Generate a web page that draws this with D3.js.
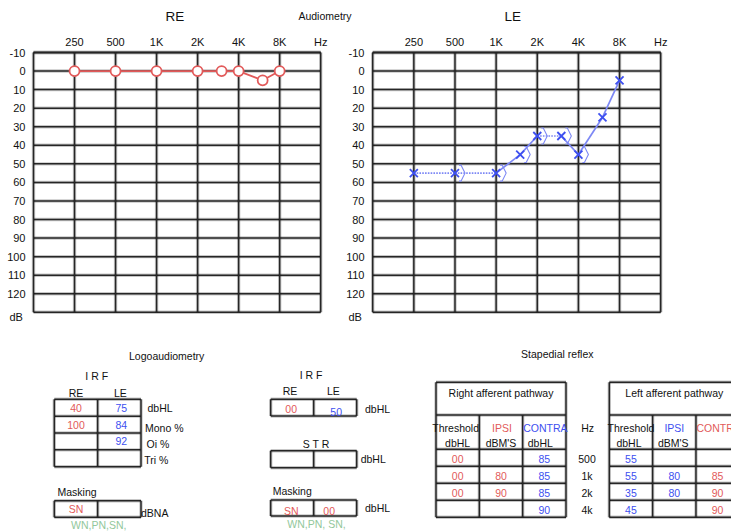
<!DOCTYPE html>
<html><head><meta charset="utf-8">
<script src="https://cdn.jsdelivr.net/npm/d3@7/dist/d3.min.js"></script>
<style>
html,body{margin:0;padding:0;background:#fff;}
svg{display:block;font-family:"Liberation Sans",Arial,Helvetica,sans-serif;}
</style></head>
<body>
<svg id="chart" width="731" height="531"></svg>
<script>
// ---------- DATA ----------
const freqTicks = [250, 500, 1000, 2000, 4000, 8000, 16000];
const freqLabels = ["250", "500", "1K", "2K", "4K", "8K", "Hz"];
const dbTicks = [-10, 0, 10, 20, 30, 40, 50, 60, 70, 80, 90, 100, 110, 120];
const reFreqs = [250, 500, 1000, 2000, 3000, 4000, 6000, 8000];
const reValues = [0, 0, 0, 0, 0, 0, 5, 0];
const leFreqs = [250, 500, 1000, 1500, 2000, 3000, 4000, 6000, 8000];
const leValues = [55, 55, 55, 45, 35, 35, 45, 25, 5];
const leDotted = [true, true, false, false, true, false, false, false]; // segment styles
const leBoneFreqs = [500, 1000, 1500, 2000, 3000, 4000];
const leBoneValues = [55, 55, 45, 35, 35, 45];

const logoUnits = ["dbHL", "Mono %", "Oi %", "Tri %"];
const logoRE = ["40", "100", "", ""];
const logoLE = ["75", "84", "92", ""];
const logoMasking = ["SN", ""];
const irfValues = ["00", "50"];
const strValues = ["", ""];
const masking2 = ["SN", "00"];

const reflexHz = ["500", "1k", "2k", "4k"];
const rightThreshold = ["00", "00", "00", ""];
const rightIpsi = ["", "80", "90", ""];
const rightContra = ["85", "85", "85", "90"];
const leftThreshold = ["55", "55", "35", "45"];
const leftIpsi = ["", "80", "80", ""];
const leftContra = ["", "85", "90", "90"];

// ---------- STYLE ----------
const RED = "#e25a5a", BLUE = "#3d4ff0", GREEN = "#92c79b", LBLUE = "#7d88f5";
const svg = d3.select("#chart");

function hline(g, x1, x2, y) {
  g.append("line").attr("x1", x1).attr("x2", x2).attr("y1", y).attr("y2", y)
    .attr("stroke", "#000").attr("stroke-opacity", 0.22).attr("stroke-width", 3.4);
  g.append("line").attr("x1", x1).attr("x2", x2).attr("y1", y).attr("y2", y)
    .attr("stroke", "#262626").attr("stroke-width", 1.5);
}
function vline(g, x, y1, y2) {
  g.append("line").attr("x1", x).attr("x2", x).attr("y1", y1).attr("y2", y2)
    .attr("stroke", "#000").attr("stroke-opacity", 0.22).attr("stroke-width", 3.4);
  g.append("line").attr("x1", x).attr("x2", x).attr("y1", y1).attr("y2", y2)
    .attr("stroke", "#262626").attr("stroke-width", 1.5);
}
function txt(g, x, y, s, opts = {}) {
  return g.append("text").attr("x", x).attr("y", y).text(s)
    .attr("font-size", opts.size || 11)
    .attr("fill", opts.color || "#111")
    .attr("text-anchor", opts.anchor || "middle")
    .attr("dominant-baseline", "central");
}

// ---------- AUDIOGRAMS ----------
function audiogram(xRange, labelX, title, titleX) {
  const g = svg.append("g");
  const x = d3.scaleLog().base(2).domain([125, 16000]).range(xRange);
  const y = d3.scaleLinear().domain([-10, 130]).range([52.5, 312.3]);
  // grid
  [-10, ...dbTicks, 130].forEach(d => hline(g, xRange[0], xRange[1], y(d)));
  [125, ...freqTicks].forEach(f => vline(g, x(f), y(-10), y(130)));
  // top labels
  freqTicks.forEach((f, i) => txt(g, x(f), 41.5, freqLabels[i], {size: 11}));
  // left labels
  dbTicks.forEach(d => txt(g, labelX, y(d), d, {size: 11, anchor: "end"}));
  txt(g, labelX - 16, 317, "dB", {size: 11, anchor: "start"});
  txt(g, titleX, 16.5, title, {size: 13.5});
  return {g, x, y};
}

const re = audiogram([33.5, 320.7], 25.5, "RE", 175);
const le = audiogram([372.7, 660.7], 364.5, "LE", 512.7);
txt(svg, 325, 15.5, "Audiometry", {size: 10.5});

// RE series
const reData = reFreqs.map((f, i) => ({f, v: reValues[i]}));
re.g.append("path").datum(reData)
  .attr("d", d3.line().x(d => re.x(d.f)).y(d => re.y(d.v)))
  .attr("fill", "none").attr("stroke", RED).attr("stroke-width", 1.8);
re.g.selectAll("circle.re").data(reData).join("circle")
  .attr("cx", d => re.x(d.f)).attr("cy", d => re.y(d.v)).attr("r", 5)
  .attr("fill", "#fff").attr("stroke", RED).attr("stroke-width", 1.8);

// LE series
const leData = leFreqs.map((f, i) => ({f, v: leValues[i]}));
for (let i = 0; i < leData.length - 1; i++) {
  le.g.append("line")
    .attr("x1", le.x(leData[i].f)).attr("y1", le.y(leData[i].v))
    .attr("x2", le.x(leData[i + 1].f)).attr("y2", le.y(leData[i + 1].v))
    .attr("stroke", LBLUE).attr("stroke-width", 1.7)
    .attr("stroke-dasharray", leDotted[i] ? "1.6,1.2" : null);
}
// bone conduction brackets
leBoneFreqs.forEach((f, i) => {
  const cx = le.x(f) + 4, cy = le.y(leBoneValues[i]);
  le.g.append("path")
    .attr("d", `M${cx},${cy - 8} L${cx + 2},${cy - 8} L${cx + 6},${cy} L${cx + 2},${cy + 8} L${cx},${cy + 8}`)
    .attr("fill", "none").attr("stroke", LBLUE).attr("stroke-width", 1.1);
});
leData.forEach(d => {
  const cx = le.x(d.f), cy = le.y(d.v), s = 4;
  le.g.append("path")
    .attr("d", `M${cx - s},${cy - s}L${cx + s},${cy + s}M${cx - s},${cy + s}L${cx + s},${cy - s}`)
    .attr("stroke", BLUE).attr("stroke-width", 1.8);
});

// ---------- TABLE HELPERS ----------
function box(g, x0, x1, y0, y1, cols, rows) {
  rows.forEach(r => hline(g, x0, x1, r));
  hline(g, x0, x1, y0); hline(g, x0, x1, y1);
  cols.forEach(c => vline(g, c, y0, y1));
  vline(g, x0, y0, y1); vline(g, x1, y0, y1);
}

// ---------- LOGOAUDIOMETRY ----------
const tg = svg.append("g");
txt(tg, 166.7, 355.5, "Logoaudiometry", {size: 10.5});
txt(tg, 96.7, 376, "I R F", {size: 10.5});
const lc = d3.scaleBand().domain(["RE", "LE"]).range([54.3, 141]);
const lr = d3.scaleBand().domain(logoUnits).range([399.3, 466.7]);
txt(tg, lc("RE") + lc.bandwidth() / 2, 392.5, "RE", {size: 10.5});
txt(tg, lc("LE") + lc.bandwidth() / 2 + 1, 393, "LE", {size: 10.5});
box(tg, 54.3, 141, 399.3, 466.7, [lc("LE")], logoUnits.slice(1).map(u => lr(u)));
logoUnits.forEach((u, i) => {
  const cy = lr(u) + lr.bandwidth() / 2;
  txt(tg, lc("RE") + lc.bandwidth() / 2, cy, logoRE[i], {color: RED, size: 10.5});
  txt(tg, lc("LE") + lc.bandwidth() / 2 + 2, cy, logoLE[i], {color: BLUE, size: 10.5});
});
txt(tg, 147.5, 408.3, "dbHL", {size: 10.5, anchor: "start"});
txt(tg, 145, 427.5, "Mono %", {size: 10.5, anchor: "start"});
txt(tg, 146.5, 444.3, "Oi %", {size: 10.5, anchor: "start"});
txt(tg, 144.3, 460, "Tri %", {size: 10.5, anchor: "start"});
txt(tg, 57.5, 491.5, "Masking", {size: 10.5, anchor: "start"});
box(tg, 54.3, 141, 500.7, 517.3, [lc("LE")], []);
txt(tg, lc("RE") + lc.bandwidth() / 2, 509, logoMasking[0], {color: RED, size: 10.5});
txt(tg, lc("LE") + lc.bandwidth() / 2, 509, logoMasking[1], {color: RED, size: 10.5});
txt(tg, 141, 512.5, "dBNA", {size: 10.5, anchor: "start"});
txt(tg, 71, 524.5, "WN,PN,SN,", {size: 10.5, anchor: "start", color: GREEN});

// ---------- IRF / STR / MASKING (middle) ----------
const mg = svg.append("g");
const mc = d3.scaleBand().domain(["RE", "LE"]).range([270.7, 356.7]);
const mid = mc("LE");
txt(mg, 311, 375, "I R F", {size: 10.5});
txt(mg, 290, 391, "RE", {size: 10.5});
txt(mg, 333.3, 391, "LE", {size: 10.5});
box(mg, 270.7, 356.7, 399.3, 416, [mid], []);
txt(mg, mc("RE") + mc.bandwidth() / 2 - 1, 409.3, irfValues[0], {color: RED, size: 10.5});
txt(mg, mc("LE") + mc.bandwidth() / 2 + 1, 411.5, irfValues[1], {color: BLUE, size: 10.5});
txt(mg, 365, 409.3, "dbHL", {size: 10.5, anchor: "start"});
txt(mg, 316, 444, "S T R", {size: 10.5});
box(mg, 270.7, 356.7, 450.7, 467.7, [mid], []);
txt(mg, mc("RE") + mc.bandwidth() / 2, 459.2, strValues[0], {size: 10.5});
txt(mg, mc("LE") + mc.bandwidth() / 2, 459.2, strValues[1], {size: 10.5});
txt(mg, 360.7, 459.3, "dbHL", {size: 10.5, anchor: "start"});
txt(mg, 272.7, 491, "Masking", {size: 10.5, anchor: "start"});
box(mg, 270.7, 356.7, 500, 516, [mid], []);
txt(mg, mc("RE") + mc.bandwidth() / 2 - 1, 510.7, masking2[0], {color: RED, size: 10.5});
txt(mg, mc("LE") + mc.bandwidth() / 2 - 6, 510.7, masking2[1], {color: RED, size: 10.5});
txt(mg, 365, 508.3, "dbHL", {size: 10.5, anchor: "start"});
txt(mg, 287.3, 524.3, "WN,PN, SN,", {size: 10.5, anchor: "start", color: GREEN});

// ---------- STAPEDIAL REFLEX ----------
const sg = svg.append("g");
txt(sg, 557.3, 354.3, "Stapedial reflex", {size: 10.5});
const rowY = d3.scaleBand().domain(reflexHz).range([449.3, 517.3]);
function reflexTable(x0, x1, title, heads, cols) {
  const cx = d3.scaleBand().domain([0, 1, 2]).range([x0, x1]);
  const dividers = [cx(1), cx(2)];
  // frame
  hline(sg, x0, x1, 382.3); hline(sg, x0, x1, 415); hline(sg, x0, x1, 449.3);
  reflexHz.slice(1).forEach(h => hline(sg, x0, x1, rowY(h)));
  hline(sg, x0, x1, 517.3);
  vline(sg, x0, 382.3, 517.3); vline(sg, x1, 382.3, 517.3);
  dividers.forEach(d => vline(sg, d, 415, 517.3));
  txt(sg, (x0 + x1) / 2, 393.3, title, {size: 10.5});
  heads.forEach((h, i) => {
    const c = cx(i) + cx.bandwidth() / 2;
    txt(sg, c + h.dx, 427.7, h.l1, {size: 10.5, color: h.c});
    txt(sg, c + h.dx2, 442.5, h.l2, {size: 10.5});
  });
  cols.forEach((col, i) => {
    col.vals.forEach((v, r) => {
      txt(sg, cx(i) + cx.bandwidth() / 2, rowY(reflexHz[r]) + rowY.bandwidth() / 2 + 1, v,
        {size: 10.5, color: col.c});
    });
  });
}
reflexTable(436, 566, "Right afferent pathway",
  [{l1: "Threshold", l2: "dbHL", c: "#111", dx: -2, dx2: 0},
   {l1: "IPSI", l2: "dBM'S", c: RED, dx: 1, dx2: 0},
   {l1: "CONTRA", l2: "dbHL", c: BLUE, dx: 1, dx2: -4}],
  [{vals: rightThreshold, c: RED}, {vals: rightIpsi, c: RED}, {vals: rightContra, c: BLUE}]);
reflexTable(609.3, 739.3, "Left afferent pathway",
  [{l1: "Threshold", l2: "dbHL", c: "#111", dx: 0, dx2: -2},
   {l1: "IPSI", l2: "dBM'S", c: BLUE, dx: 0, dx2: -1},
   {l1: "CONTRA", l2: "", c: RED, dx: 1, dx2: 0}],
  [{vals: leftThreshold, c: BLUE}, {vals: leftIpsi, c: BLUE}, {vals: leftContra, c: RED}]);
txt(sg, 587.7, 427.7, "Hz", {size: 10.5});
reflexHz.forEach(h => txt(sg, 587, rowY(h) + rowY.bandwidth() / 2 + 1, h, {size: 10.5}));
</script>
</body></html>
